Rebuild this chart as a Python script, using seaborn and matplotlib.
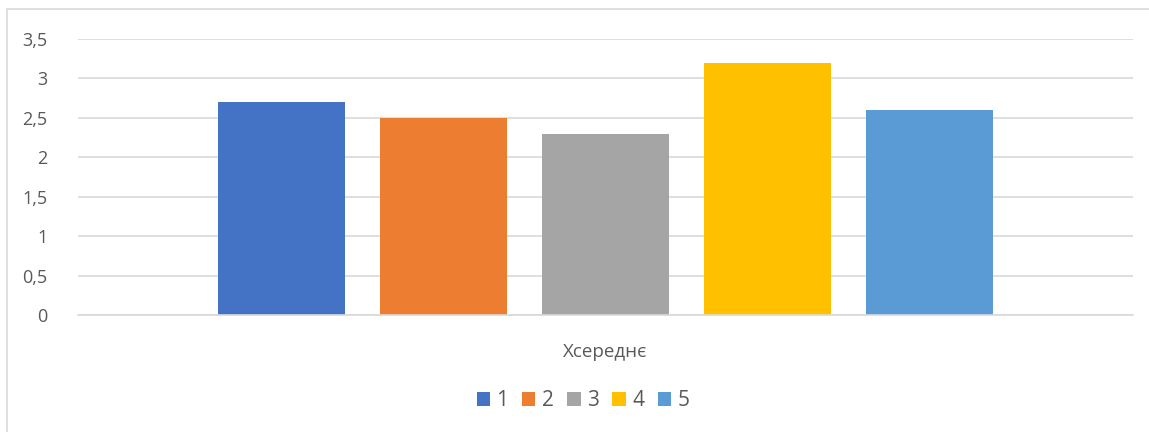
import matplotlib
matplotlib.use("Agg")
import matplotlib.pyplot as plt
from matplotlib.patches import Rectangle
from matplotlib.ticker import FuncFormatter, MultipleLocator
import seaborn as sns
import pandas as pd

# Chart data
category = "Хсереднє"
groups = ["1", "2", "3", "4", "5"]
values = [2.7, 2.5, 2.3, 3.2, 2.6]
colors = ["#4472C4", "#ED7D31", "#A5A5A5", "#FFC000", "#5B9BD5"]

df = pd.DataFrame({"cat": [category] * len(groups), "group": groups, "value": values})

sns.set_theme(style="white")
plt.rcParams["font.family"] = ["Open Sans", "DejaVu Sans"]

W, H = 1149, 432
fig = plt.figure(figsize=(W / 100, H / 100), dpi=100)
fig.patch.set_facecolor("white")

# chart-area frame
fig.patches.append(Rectangle((7 / W, -0.1), 1.2, 1 - 9 / H + 0.1, transform=fig.transFigure,
                             fill=False, edgecolor="#d9d9d9", linewidth=1.2))

left, right, top, bottom = 78, 1133, 39, 315
ax = fig.add_axes([left / W, 1 - bottom / H, (right - left) / W, (bottom - top) / H])

sns.barplot(data=df, x="cat", y="value", hue="group", palette=colors,
            width=0.768, gap=0.216, ax=ax, legend=True, saturation=1, linewidth=0)

ax.set_ylim(0, 3.5)
ax.set_xlim(-0.5, 0.5)
ax.yaxis.set_major_locator(MultipleLocator(0.5))
ax.yaxis.set_major_formatter(FuncFormatter(lambda v, p: f"{v:g}".replace(".", ",")))
ax.grid(axis="y", color="#d9d9d9", linewidth=1.2)
ax.set_axisbelow(True)
for s in ["top", "right", "left"]:
    ax.spines[s].set_visible(False)
ax.spines["bottom"].set_color("#d9d9d9")
ax.spines["bottom"].set_linewidth(1.2)
ax.tick_params(axis="y", length=0, pad=22, labelsize=13, labelcolor="#595959")
ax.tick_params(axis="x", length=0, pad=20, labelsize=13.5, labelcolor="#595959")
ax.set_xlabel("")
ax.set_ylabel("")

handles, labels = ax.get_legend_handles_labels()
ax.legend_.remove()
fig.legend(handles, labels, loc="center", bbox_to_anchor=(583 / W, 1 - 401 / H), ncol=5,
           frameon=False, fontsize=15, labelcolor="#595959", handlelength=0.65,
           handleheight=0.65, handletextpad=0.3, columnspacing=0.65)

fig.savefig("out.png", dpi=100, facecolor="white")
